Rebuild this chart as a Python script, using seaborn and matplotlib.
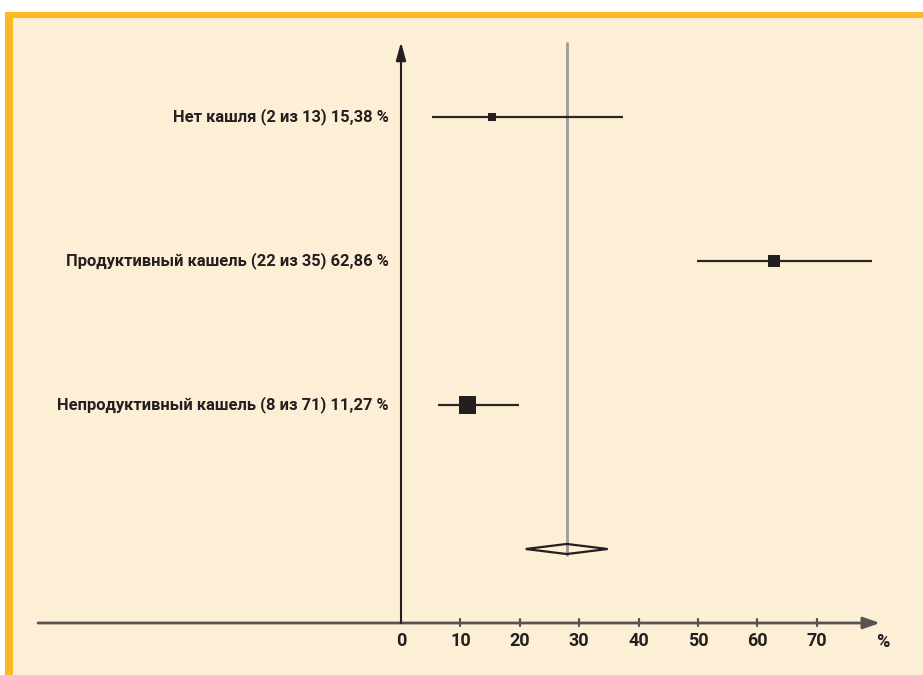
import matplotlib
matplotlib.use("Agg")
import matplotlib.pyplot as plt
from matplotlib.patches import Rectangle, Polygon
import seaborn as sns
import pandas as pd

# Subgroups: label, point estimate (%), CI bounds, marker weight
labels = [
    "Нет кашля (2 из 13) 15,38 %",
    "Продуктивный кашель (22 из 35) 62,86 %",
    "Непродуктивный кашель (8 из 71) 11,27 %",
]
estimates = [15.38, 62.86, 11.27]
ci_low = [5.2, 49.8, 6.2]
ci_high = [37.4, 79.3, 19.9]
weights = [13, 35, 71]

# Pooled estimate (diamond)
pooled = 27.9
pooled_low = 21.0
pooled_high = 34.8

ticks = [0, 10, 20, 30, 40, 50, 60, 70]

sns.set_style("white")
FONT = ["Roboto", "Liberation Sans", "DejaVu Sans"]
plt.rcParams["font.family"] = FONT

W, H = 923, 675
fig = plt.figure(figsize=(W / 100, H / 100), dpi=100)
fig.patch.set_facecolor("white")

ax = fig.add_axes([0, 0, 1, 1])
ax.set_facecolor("none")
px = 5.94  # pixels per percent
x0 = 401
ax.set_xlim(-x0 / px, (W - x0) / px)
row0, step = 117, 144
ax.set_ylim((H - row0) / step, -row0 / step)
ax.axis("off")

cream = "#FDEFD5"
orange = "#FDB827"
# framed panel
ax.add_patch(Rectangle((5 / W, 0), 1.2, (H - 12) / H, transform=ax.transAxes,
                       facecolor=orange, edgecolor="none", zorder=0))
ax.add_patch(Rectangle((13 / W, 0), 1.2, (H - 18) / H, transform=ax.transAxes,
                       facecolor=cream, edgecolor="none", zorder=0.5))


def ypx(p):
    return (p - row0) / step


df = pd.DataFrame({"row": [0, 1, 2], "est": estimates, "w": weights,
                   "lo": ci_low, "hi": ci_high, "label": labels})

# reference line at pooled estimate
ax.plot([pooled, pooled], [ypx(43), ypx(555)], color="#9a9a9a", lw=2, zorder=2)

# confidence intervals
ax.hlines(df["row"], df["lo"], df["hi"], color="#2a2626", lw=1.6, zorder=3)

# point estimates sized by weight
sns.scatterplot(data=df, x="est", y="row", size="w", sizes=(33, 150), marker="s",
                color="#231f20", edgecolor="none", legend=False, ax=ax, zorder=4)

# pooled diamond
yd = 3
hd = 0.035
diamond = Polygon([(pooled_low, yd), (pooled, yd - hd), (pooled_high, yd), (pooled, yd + hd)],
                  closed=True, facecolor="none", edgecolor="#231f20", lw=1.6, zorder=3)
ax.add_patch(diamond)

# row labels
for r, lab in zip(df["row"], df["label"]):
    ax.text(-12 / px, r, lab, ha="right", va="center", fontsize=11.9,
            fontweight="bold", color="#231f20", family=FONT)

# x axis with arrow
yax = ypx(623)
ax.annotate("", xy=((880 - x0) / px, yax), xytext=((38 - x0) / px, yax),
            arrowprops=dict(arrowstyle="-|>,head_length=1.0,head_width=0.35",
                            color="#595350", lw=2, shrinkA=0, shrinkB=0), zorder=3)
for t in ticks:
    if t > 0:
        ax.plot([t, t], [yax - 4 / step, yax + 3 / step], color="#595350", lw=1.6, zorder=3)
    ax.text(t, ypx(641), str(t), ha="center", va="center", fontsize=13,
            fontweight="bold", color="#231f20", family=FONT)
ax.text((883 - x0) / px, ypx(642), "%", ha="center", va="center", fontsize=13,
        fontweight="bold", color="#231f20", family=FONT)

# y axis with arrow
ax.annotate("", xy=(0, ypx(42)), xytext=(0, ypx(623)),
            arrowprops=dict(arrowstyle="-|>,head_length=1.1,head_width=0.3",
                            color="#231f20", lw=1.5, shrinkA=0, shrinkB=0), zorder=3)

fig.savefig("out.png", dpi=100, facecolor=fig.get_facecolor())
